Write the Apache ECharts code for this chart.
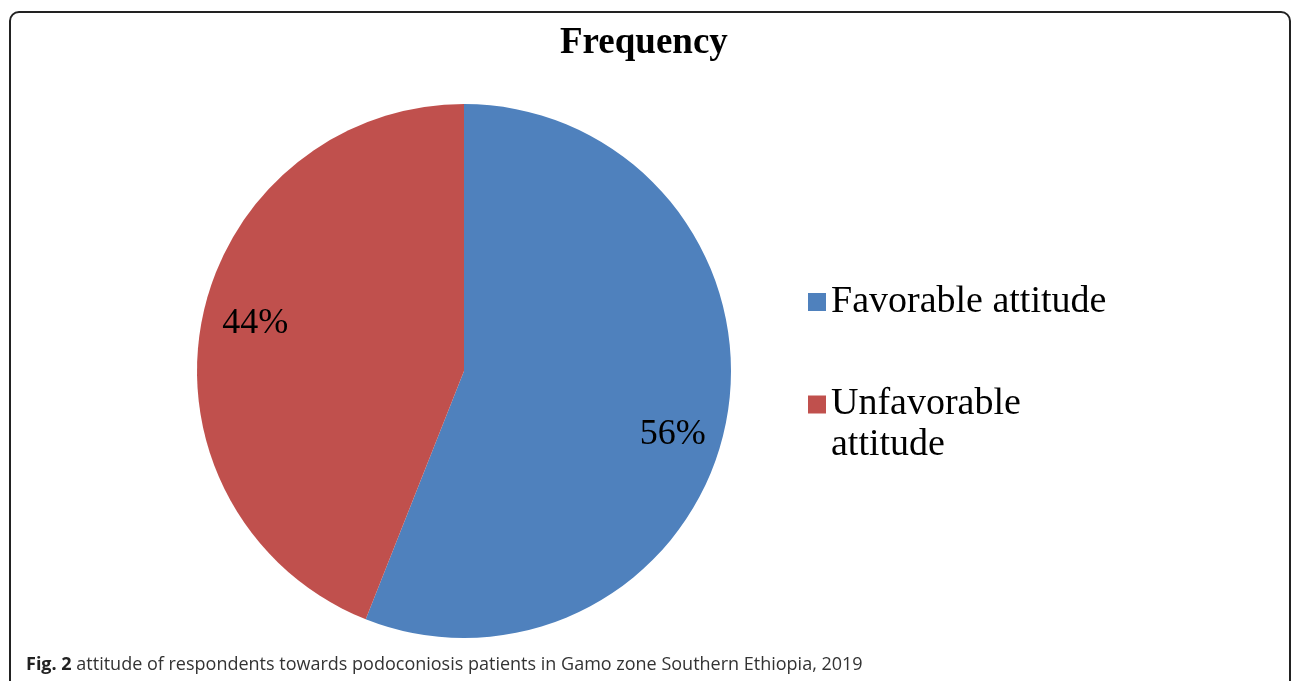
<!DOCTYPE html>
<html lang="en" style="height: 100%">
<head>
    <meta charset="utf-8">
</head>
<body style="height: 100%; margin: 0; background: #fff">
<div id="container" style="height: 100%"></div>

<script type="text/javascript" src="https://fastly.jsdelivr.net/npm/echarts@6/dist/echarts.min.js"></script>

<script type="text/javascript">
    var categories = ['Favorable attitude', 'Unfavorable attitude'];
    var values = [56, 44];
    var colors = ['#4F81BD', '#C0504D'];
    var caption = 'attitude of respondents towards podoconiosis patients in Gamo zone Southern Ethiopia, 2019';

    var dom = document.getElementById('container');
    var myChart = echarts.init(dom, null, {
        renderer: 'canvas',
        useDirtyRect: false
    });

    var pieData = categories.map(function (name, i) {
        return { name: name, value: values[i], itemStyle: { color: colors[i] } };
    });
    // second ring only carries the labels, pushed out toward the rim like excel does
    var labelData = categories.map(function (name, i) {
        return { name: name, value: values[i], itemStyle: { color: 'rgba(0,0,0,0)' } };
    });

    var serif = '"Liberation Serif", "Times New Roman", serif';

    var option = {
        animation: false,
        title: [
            {
                text: 'Frequency',
                left: 555,
                top: 20,
                textStyle: { fontFamily: serif, fontSize: 37, fontWeight: 'bold', color: '#000' }
            },
            {
                text: '{b|Fig. 2} ' + caption,
                left: 21,
                top: 651,
                textStyle: {
                    fontFamily: '"Open Sans", sans-serif',
                    fontSize: 18,
                    fontWeight: 'normal',
                    color: '#333',
                    rich: {
                        b: { fontFamily: '"Open Sans", sans-serif', fontSize: 18, fontWeight: 'bold', color: '#222' }
                    }
                }
            }
        ],
        legend: {
            orient: 'vertical',
            left: 803,
            top: 274,
            itemWidth: 18,
            itemHeight: 18,
            itemGap: 18,
            icon: 'rect',
            selectedMode: false,
            // blank first line keeps the wrapped label's first line level with its square
            formatter: function (name) {
                return name === categories[1] ? '\n' + name : name;
            },
            textStyle: { fontFamily: serif, fontSize: 38, color: '#000', lineHeight: 46 },
            data: [
                { name: categories[0] },
                {
                    name: categories[1],
                    textStyle: { width: 240, overflow: 'break', lineHeight: 41 }
                }
            ]
        },
        graphic: [
            {
                type: 'rect',
                shape: { x: 10, y: 12, width: 1280, height: 720, r: 9 },
                style: { fill: 'none', stroke: '#222', lineWidth: 2 },
                silent: true
            }
        ],
        series: [
            {
                type: 'pie',
                center: [464, 371],
                radius: 267,
                startAngle: 90,
                clockwise: true,
                silent: true,
                label: { show: false },
                labelLine: { show: false },
                data: pieData
            },
            {
                type: 'pie',
                center: [464, 371],
                radius: [159, 267],
                startAngle: 86,
                clockwise: true,
                silent: true,
                label: {
                    show: true,
                    position: 'inside',
                    formatter: '{p|{d}%}',
                    rich: {
                        p: { fontFamily: serif, fontSize: 36, color: '#000', padding: [16, 0, 0, 0] }
                    }
                },
                labelLine: { show: false },
                data: labelData
            }
        ]
    };

    myChart.setOption(option);
    window.addEventListener('resize', myChart.resize);
</script>
</body>
</html>
